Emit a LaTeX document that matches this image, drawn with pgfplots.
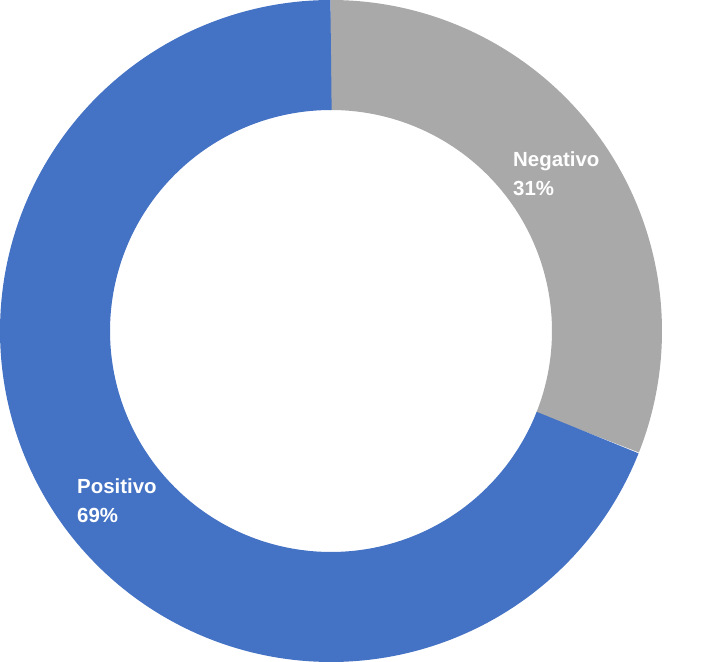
\documentclass[border=0pt]{standalone}
\usepackage{pgfplots}
\pgfplotsset{compat=1.18}
\usepackage{fontspec}
\setmainfont{Liberation Sans}
\definecolor{negcol}{HTML}{A9A9A9}
\definecolor{poscol}{HTML}{4472C4}
% donut geometry (bp): centre, mid radius of ring
\def\cx{331}\def\cy{331}\def\rm{276}
% shares in percent
\def\negv{31}\def\posv{69}
\pgfmathsetmacro{\aa}{90.2}
\pgfmathsetmacro{\ab}{90-3.6*\negv}
\pgfmathsetmacro{\ac}{\ab-3.6*\posv}
\begin{document}
\begin{tikzpicture}[lab/.style={anchor=base west, inner sep=0, text=white,
    font=\fontsize{20.5}{24}\selectfont\bfseries}]
\useasboundingbox (0,0) rectangle (720bp,662bp);
\begin{axis}[
    hide axis, scale only axis, clip=false,
    anchor=south west, at={(0,0)},
    width=720bp, height=662bp,
    xmin=0, xmax=720, ymin=0, ymax=662,
]
% Negativo
\addplot[negcol, line width=110bp, domain=\ab:\aa, samples=120, variable=\t]
    ({\cx+\rm*cos(\t)}, {\cy+\rm*sin(\t)});
% Positivo
\addplot[poscol, line width=110bp, domain=\ac:\ab, samples=200, variable=\t]
    ({\cx+\rm*cos(\t)}, {\cy+\rm*sin(\t)});
\node[lab] at (axis cs:513,495) {Negativo};
\node[lab] at (axis cs:513,466) {\negv\%};
\node[lab] at (axis cs:77,168) {Positivo};
\node[lab] at (axis cs:77,139) {\posv\%};
\end{axis}
\end{tikzpicture}
\end{document}
